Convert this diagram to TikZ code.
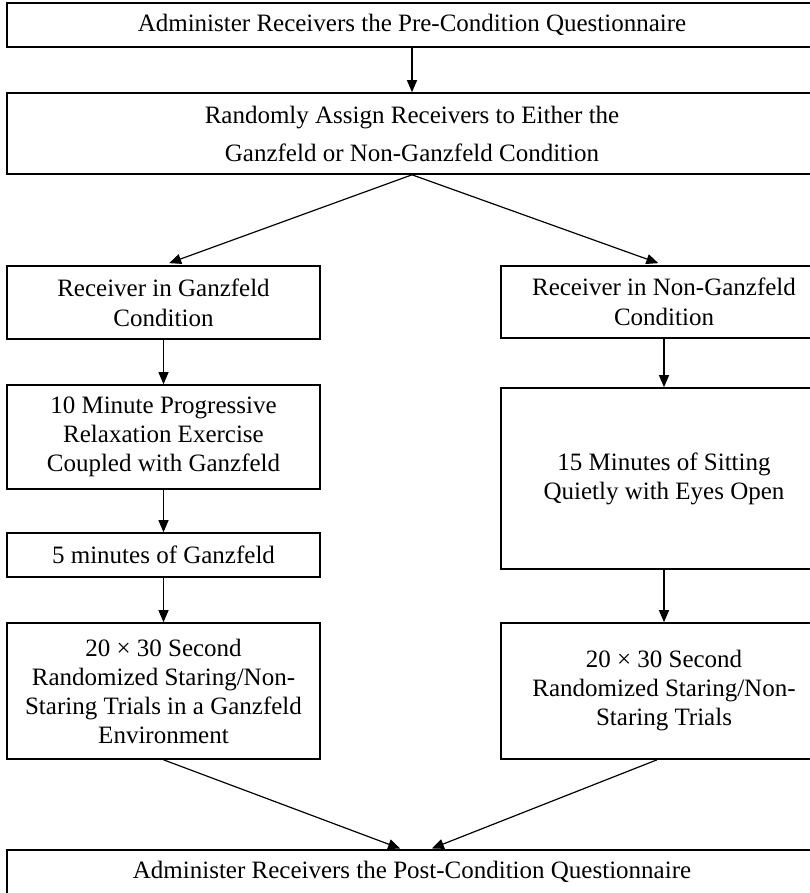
\documentclass[tikz,border=0pt]{standalone}
\usepackage{fontspec}
\setmainfont{Liberation Serif}
\usetikzlibrary{arrows.meta}
\begin{document}
\begin{tikzpicture}[x=1pt,y=-1pt]
\tikzstyle{box}=[draw,rectangle,line width=1.6pt,inner sep=0pt,align=center,font=\fontsize{25}{29}\selectfont,minimum width=313pt]
\tikzstyle{wide}=[box,minimum width=810pt,minimum height=44pt]
\tikzstyle{flow}=[-{Triangle[length=12pt,width=10pt]},line width=1.2pt]
\useasboundingbox (0,0) rectangle (810,893);
\clip (0,0) rectangle (810,893);
\node[wide] (pre) at (412,25) {Administer Receivers the Pre-Condition Questionnaire};
\node[wide,minimum height=81pt,font=\fontsize{25}{38}\selectfont] (assign) at (412,133.5) {Randomly Assign Receivers to Either the\\Ganzfeld or Non-Ganzfeld Condition};
\node[box,minimum height=73pt,font=\fontsize{25}{30}\selectfont] (gz1) at (163.5,302.5) {Receiver in Ganzfeld\\Condition};
\node[box,minimum height=104pt] (gz2) at (163.5,437) {10 Minute Progressive\\Relaxation Exercise\\Coupled with Ganzfeld};
\node[box,minimum height=44pt] (gz3) at (163.5,555) {5 minutes of Ganzfeld};
\node[box,minimum height=136pt] (gz4) at (163.5,691) {20 × 30 Second\\Randomized Staring/Non-\\Staring Trials in a Ganzfeld\\Environment};
\node[box,minimum width=326pt,minimum height=72pt,font=\fontsize{25}{30}\selectfont] (ng1) at (664,302) {Receiver in Non-Ganzfeld\\Condition};
\node[box,minimum width=326pt,minimum height=181pt] (ng2) at (664,478.5) {15 Minutes of Sitting\\Quietly with Eyes Open};
\node[box,minimum width=326pt,minimum height=136pt] (ng3) at (664,691) {20 × 30 Second\\Randomized Staring/Non-\\Staring Trials};
\node[wide] (post) at (412,872) {Administer Receivers the Post-Condition Questionnaire};
\coordinate (inL) at ([xshift=-10pt]post.north);
\coordinate (inR) at ([xshift=18pt]post.north);
\draw[flow] (pre) -- (assign);
\draw[flow,shorten >=6pt] (assign.south) -- (gz1.north);
\draw[flow,shorten >=6pt] (assign.south) -- (ng1.north);
\draw[flow] (gz1) -- (gz2);
\draw[flow] (gz2) -- (gz3);
\draw[flow] (gz3) -- (gz4);
\draw[flow] (ng1) -- (ng2);
\draw[flow] (ng2) -- (ng3);
\draw[flow,shorten >=2pt] (gz4.south) -- (inL);
\draw[flow,shorten >=2pt] ([xshift=-7pt]ng3.south) -- (inR);
\end{tikzpicture}
\end{document}
